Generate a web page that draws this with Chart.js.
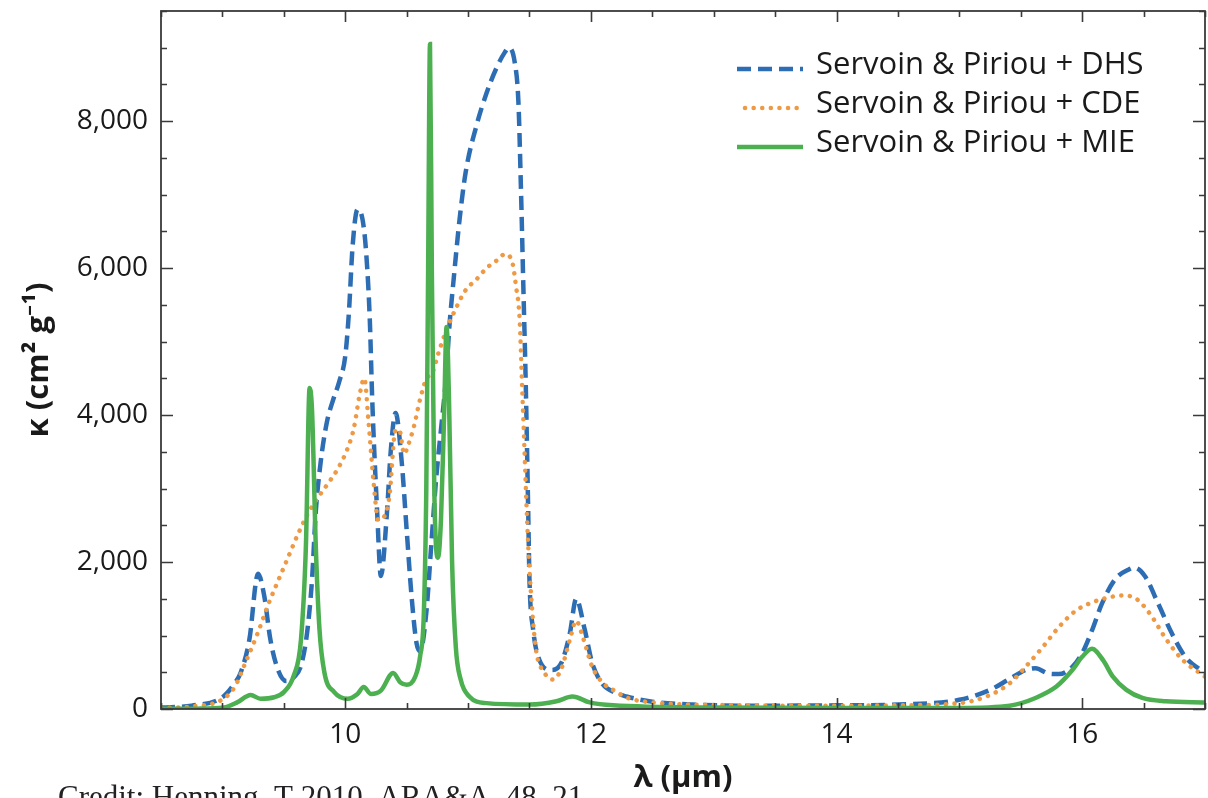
<!DOCTYPE html>
<html>
<head>
<meta charset="utf-8">
<script src="https://cdn.jsdelivr.net/npm/chart.js@4.4.1/dist/chart.umd.min.js"></script>
<style>
  html, body { margin: 0; padding: 0; background: #fff; }
  #wrap { width: 1208px; height: 798px; overflow: hidden; }
</style>
</head>
<body>
<div id="wrap"><canvas id="kappaChart" width="1208" height="798"></canvas></div>
<script>
// wavelength (um) / kappa (cm2 g-1)
const dhsX = [8.5, 8.75, 9.0, 9.1, 9.15, 9.22, 9.29, 9.34, 9.39, 9.45, 9.52, 9.58, 9.64, 9.69, 9.73, 9.76, 9.80, 9.85, 9.90, 9.95,
  10.0, 10.03, 10.06, 10.10, 10.14, 10.17, 10.20, 10.22, 10.26, 10.29, 10.34, 10.37, 10.41, 10.46, 10.50, 10.54, 10.58, 10.61, 10.66,
  10.70, 10.74, 10.78, 10.82, 10.85, 10.88, 10.93, 10.98, 11.07, 11.15, 11.23, 11.30, 11.33, 11.38, 11.41, 11.43, 11.45, 11.47,
  11.49, 11.50, 11.53, 11.58, 11.68, 11.76, 11.83, 11.88, 11.95, 12.01, 12.09, 12.20, 12.29, 12.50, 12.83, 13.37, 14.0, 14.5,
  15.0, 15.25, 15.4, 15.54, 15.62, 15.73, 15.81, 15.92, 16.0, 16.08, 16.16, 16.27, 16.38, 16.42, 16.51, 16.62, 16.73, 16.84, 17.0];
const dhsY = [20, 45, 160, 350, 500, 950, 1840, 1545, 950, 545, 380, 430, 590, 1045, 1770, 2680, 3360, 3900, 4200, 4450,
  4800, 5400, 6300, 6800, 6670, 6220, 5300, 4200, 2680, 1810, 2680, 3500, 4030, 3360, 2440, 1535, 900, 785, 1310,
  2220, 3130, 3810, 4500, 5250, 5800, 6650, 7300, 7950, 8380, 8720, 8940, 9000, 8800, 8260, 7120, 5760, 4400,
  2670, 1760, 1080, 670, 530, 630, 1040, 1500, 1080, 630, 350, 220, 170, 100, 60, 45, 50, 60,
  125, 260, 400, 530, 555, 480, 475, 575, 760, 1070, 1430, 1770, 1900, 1925, 1810, 1430, 1030, 710, 490];

const cdeX = [8.5, 8.75, 9.0, 9.1, 9.19, 9.29, 9.37, 9.45, 9.53, 9.61, 9.69, 9.77, 9.86, 9.94, 10.02, 10.07, 10.12, 10.155,
  10.19, 10.23, 10.27, 10.31, 10.36, 10.41, 10.44, 10.48, 10.51, 10.56, 10.61, 10.66, 10.71, 10.76, 10.82, 10.90, 10.98,
  11.07, 11.15, 11.23, 11.30, 11.36, 11.39, 11.42, 11.44, 11.46, 11.48, 11.50, 11.55, 11.62, 11.69, 11.76, 11.83, 11.88,
  11.94, 12.01, 12.10, 12.18, 12.30, 12.50, 13.0, 14.0, 14.5, 15.0, 15.25, 15.41, 15.54, 15.68, 15.81, 15.95, 16.08,
  16.22, 16.33, 16.44, 16.55, 16.69, 16.82, 17.0];
const cdeY = [15, 35, 130, 300, 640, 1045, 1410, 1730, 2045, 2360, 2640, 2860, 3070, 3270, 3550, 3820, 4300, 4500,
  3900, 3100, 2570, 2600, 2900, 3800, 3800, 3470, 3580, 3850, 4220, 4490, 4580, 4850, 5140, 5450, 5700,
  5850, 6000, 6100, 6190, 6080, 5760, 5300, 4400, 3500, 2600, 1900, 850, 500, 400, 550, 950, 1200,
  950, 580, 350, 260, 150, 90, 55, 45, 50, 80, 190, 350, 575, 845, 1115, 1340, 1450,
  1520, 1545, 1500, 1300, 935, 665, 440];

const mieX = [8.5, 8.8, 9.01, 9.12, 9.23, 9.31, 9.42, 9.50, 9.58, 9.64, 9.68, 9.71, 9.73, 9.76, 9.79, 9.83, 9.91, 10.02,
  10.10, 10.15, 10.21, 10.29, 10.39, 10.45, 10.50, 10.57, 10.61, 10.64, 10.66, 10.675, 10.69, 10.705, 10.725, 10.755,
  10.78, 10.805, 10.825, 10.845, 10.87, 10.90, 10.94, 11.01, 11.15, 11.50, 11.72, 11.85, 11.99, 12.18, 13.0, 14.0,
  15.0, 15.41, 15.62, 15.79, 15.92, 16.0, 16.08, 16.17, 16.25, 16.36, 16.49, 16.68, 17.0];
const mieY = [3, 5, 20, 90, 190, 140, 160, 230, 450, 950, 2230, 4370, 4050, 2230, 1090, 500, 230, 140,
  205, 300, 205, 250, 490, 360, 330, 440, 720, 1300, 3000, 6000, 9050, 6000, 3000, 2060,
  2600, 4000, 5200, 4200, 2000, 850, 400, 170, 80, 60, 105, 170, 90, 50, 20, 15,
  15, 45, 150, 305, 530, 710, 820, 665, 440, 260, 150, 105, 90];

const seriesNames = ['Servoin & Piriou + DHS', 'Servoin & Piriou + CDE', 'Servoin & Piriou + MIE'];
const xTicks = [10, 12, 14, 16];
const yTicks = [0, 2000, 4000, 6000, 8000];
const xMin = 8.5, xMax = 17, yMin = 0, yMax = 9500;

function pts(xs, ys) {
  return xs.map((x, i) => ({x: x, y: ys[i]}));
}

const FONT = '"Open Sans", "Noto Sans", sans-serif';
const BLUE = '#2d6db3', ORANGE = '#ee9a45', GREEN = '#4caf50';

// frame, inward ticks on all four sides, and the line legend
const framePlugin = {
  id: 'framePlugin',
  afterDraw(chart) {
    const {ctx, chartArea: a, scales: {x, y}} = chart;
    ctx.save();
    ctx.strokeStyle = '#3a3a3a';
    ctx.lineWidth = 1.6;
    ctx.beginPath();
    for (let v = xMin; v <= xMax + 1e-9; v += 0.5) {
      const px = Math.round(x.getPixelForValue(v)) + 0.5;
      const len = xTicks.includes(v) ? 11 : 6;
      ctx.moveTo(px, a.bottom); ctx.lineTo(px, a.bottom - len);
      ctx.moveTo(px, a.top); ctx.lineTo(px, a.top + len);
    }
    for (let v = yMin; v <= yMax; v += 500) {
      const py = Math.round(y.getPixelForValue(v)) + 0.5;
      const len = yTicks.includes(v) ? 12 : 6;
      ctx.moveTo(a.left, py); ctx.lineTo(a.left + len, py);
      ctx.moveTo(a.right, py); ctx.lineTo(a.right - len, py);
    }
    ctx.stroke();
    ctx.lineWidth = 1.8;
    ctx.strokeRect(a.left, a.top, a.width, a.height);

    // legend
    const rows = [69, 108, 147];
    chart.data.datasets.forEach(ds => {
      const yy = rows[ds.legendRow];
      ctx.strokeStyle = ds.borderColor;
      ctx.lineWidth = ds.borderWidth;
      ctx.lineCap = ds.borderCapStyle || 'butt';
      ctx.setLineDash(ds.borderDash || []);
      ctx.beginPath();
      ctx.moveTo(ds.legendRow === 1 ? 745 : 737, yy);
      ctx.lineTo(803, yy);
      ctx.stroke();
      ctx.setLineDash([]);
      ctx.fillStyle = '#1a1a1a';
      ctx.font = '31px ' + FONT;
      ctx.textBaseline = 'middle';
      ctx.textAlign = 'left';
      ctx.fillText(ds.label, 816, yy - 4);
    });

    // source credit, cut off by the bottom edge
    ctx.fillStyle = '#222';
    ctx.font = '31px "Liberation Serif", "Times New Roman", serif';
    ctx.textBaseline = 'alphabetic';
    ctx.fillText('Credit: Henning, T 2010, ARA&A, 48, 21', 58, 807);
    ctx.restore();
  }
};

new Chart(document.getElementById('kappaChart').getContext('2d'), {
  type: 'line',
  data: {
    datasets: [
      {
        label: seriesNames[2], legendRow: 2, order: 0,
        data: pts(mieX, mieY),
        borderColor: GREEN, borderWidth: 4.5,
        pointRadius: 0, cubicInterpolationMode: 'monotone'
      },
      {
        label: seriesNames[1], legendRow: 1, order: 1,
        data: pts(cdeX, cdeY),
        borderColor: ORANGE, borderWidth: 4.5, borderDash: [0.1, 8.5], borderCapStyle: 'round',
        pointRadius: 0, cubicInterpolationMode: 'monotone'
      },
      {
        label: seriesNames[0], legendRow: 0, order: 2,
        data: pts(dhsX, dhsY),
        borderColor: BLUE, borderWidth: 4.5, borderDash: [14, 7],
        pointRadius: 0, cubicInterpolationMode: 'monotone'
      }
    ]
  },
  options: {
    responsive: false,
    animation: false,
    layout: { padding: { top: 11, right: 3, left: 0, bottom: 0 } },
    plugins: { legend: { display: false }, tooltip: { enabled: false } },
    scales: {
      x: {
        type: 'linear', min: xMin, max: xMax,
        grid: { display: false, drawTicks: false },
        border: { display: false },
        afterBuildTicks: s => { s.ticks = xTicks.map(v => ({value: v})); },
        afterFit: s => { s.height = 89; s.paddingLeft = 0; s.paddingRight = 0; },
        ticks: { padding: 9, color: '#1a1a1a', font: { family: FONT, size: 28 } },
        title: {
          display: true, text: 'λ (μm)', color: '#1a1a1a',
          font: { family: FONT, size: 31, weight: 'bold' },
          padding: { top: 0, bottom: 1 }
        }
      },
      y: {
        min: yMin, max: yMax,
        grid: { display: false, drawTicks: false },
        border: { display: false },
        afterBuildTicks: s => { s.ticks = yTicks.map(v => ({value: v})); },
        afterFit: s => { s.width = 161; s.paddingTop = 0; s.paddingBottom = 0; },
        ticks: {
          padding: 13, color: '#1a1a1a', font: { family: FONT, size: 28 },
          callback: v => v.toLocaleString('en-US')
        },
        title: {
          display: true, text: 'κ (cm² g⁻¹)', color: '#1a1a1a',
          font: { family: FONT, size: 31, weight: 'bold' },
          padding: { top: 21, bottom: 0 }
        }
      }
    }
  },
  plugins: [framePlugin]
});
</script>
</body>
</html>
